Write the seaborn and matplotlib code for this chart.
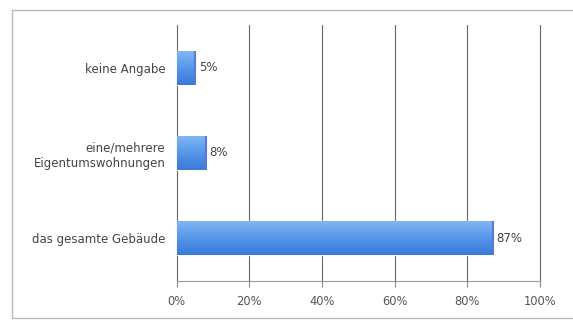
import numpy as np
import pandas as pd
import matplotlib
matplotlib.use("Agg")
import matplotlib.pyplot as plt
from matplotlib.patches import Rectangle
from matplotlib.colors import LinearSegmentedColormap
import seaborn as sns

categories = ["keine Angabe", "eine/mehrere\nEigentumswohnungen", "das gesamte Gebäude"]
shares = [5, 8, 87]
xticks = [0, 20, 40, 60, 80, 100]
xtick_labels = ["0%", "20%", "40%", "60%", "80%", "100%"]

df = pd.DataFrame({"Kategorie": categories, "Anteil": shares})

sns.set_style("white")
plt.rcParams["font.family"] = ["DejaVu Sans"]

fig = plt.figure(figsize=(5.73, 3.2), dpi=100)
fig.patch.set_facecolor("white")
fig.patches.append(Rectangle((12 / 573, 2 / 320), 1.0, 308 / 320,
                             transform=fig.transFigure, fill=False,
                             edgecolor="#b8b8b8", linewidth=1.0))

ax = fig.add_axes([176.5 / 573, 1 - 281 / 320, (540 - 176.5) / 573, (281 - 25) / 320])
sns.barplot(data=df, x="Anteil", y="Kategorie", orient="h", width=0.4,
            color="#5b97e6", ax=ax, saturation=1)

ax.set_xlim(0, 100)
ax.set_ylim(2.5, -0.5)

# vertical gradient fill inside each bar
cmap = LinearSegmentedColormap.from_list("barblue", ["#86b6f3", "#65a2ee", "#4c8ce3", "#3a7bd8"])
grad = np.linspace(0, 1, 64).reshape(-1, 1)
for patch in ax.patches:
    x0, y0 = patch.get_x(), patch.get_y()
    w, h = patch.get_width(), patch.get_height()
    im = ax.imshow(grad, cmap=cmap, aspect="auto", extent=(x0, x0 + w, y0 + h, y0),
                   zorder=patch.get_zorder() + 0.1, interpolation="bicubic")
    im.set_clip_path(patch)
    ax.plot([x0 + w, x0 + w], [y0, y0 + h], color="#5a78d8", lw=1.5,
            zorder=patch.get_zorder() + 0.2, solid_capstyle="butt")
ax.set_xlim(0, 100)
ax.set_ylim(2.5, -0.5)

for i, v in enumerate(shares):
    ax.text(v + 1.1, i, f"{v}%", va="center", ha="left", fontsize=8.5, color="#444444")

ax.set_xticks(xticks)
ax.set_xticklabels(xtick_labels, fontsize=8.3, color="#555555")
ax.tick_params(axis="y", labelsize=8.5, labelcolor="#444444", length=0, pad=8)
ax.tick_params(axis="x", length=4, width=0.8, color="#888888", pad=6, direction="out",
               bottom=True)
for lbl in ax.get_yticklabels():
    lbl.set_horizontalalignment("right")
    lbl.set_multialignment("right")

# vertical gridlines, including the 0% and 100% edges
for xv in xticks:
    ax.axvline(xv, color="#666666", linewidth=0.8, zorder=0.5, clip_on=False)
ax.set_xlabel("")
ax.set_ylabel("")
for side in ["top", "right", "left"]:
    ax.spines[side].set_visible(False)
ax.spines["bottom"].set_color("#999999")
ax.spines["bottom"].set_linewidth(0.8)

fig.savefig("out.png", dpi=100)
